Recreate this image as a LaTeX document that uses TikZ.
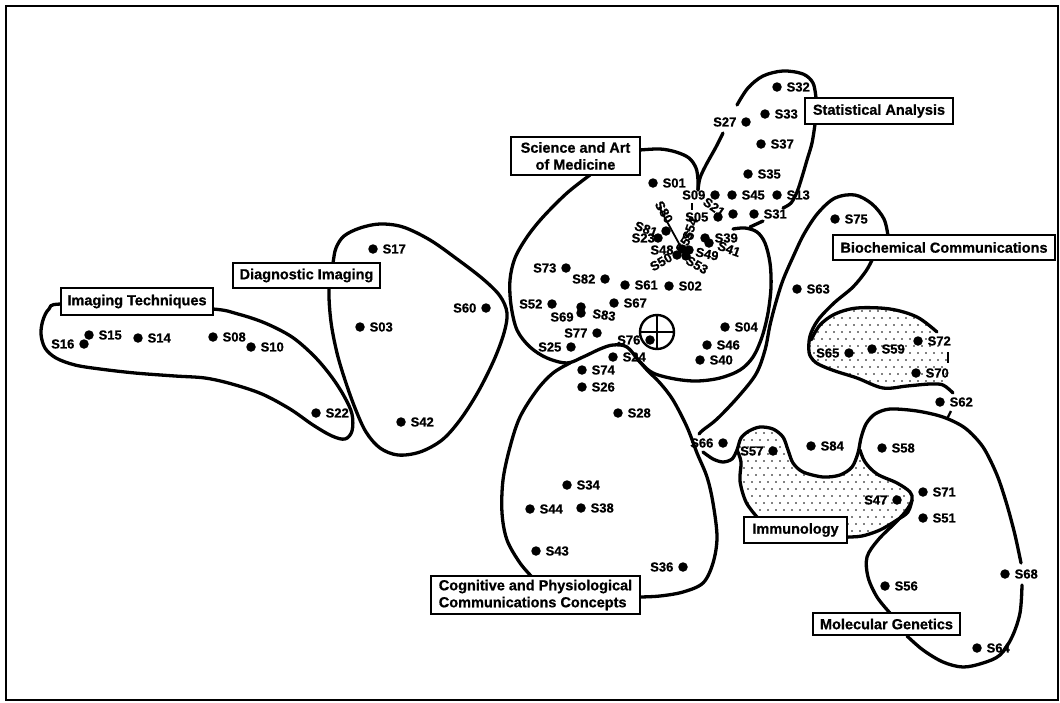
\documentclass[tikz,border=0pt]{standalone}
\usepackage{fontspec}
\setmainfont{Liberation Sans}[BoldFeatures={FakeBold=0.8}]
% dot with its label on the right / on the left
\newcommand\dotR[3]{\node[dot] (p#1) at (#2,#3) {}; \node[lab,anchor=west] (t#1) at ([xshift=4.5pt]p#1.east) {S#1};}
\newcommand\dotL[3]{\node[dot] (p#1) at (#2,#3) {}; \node[lab,anchor=east] (t#1) at ([xshift=-4.5pt]p#1.west) {S#1};}
\begin{document}
\begin{tikzpicture}[x=1pt,y=-1pt,
  dot/.style={circle,fill=black,inner sep=0pt,minimum size=9.5pt},
  lab/.style={inner sep=0pt,font=\bfseries\fontsize{13}{14}\selectfont},
  box/.style={draw,line width=2.4pt,fill=white,inner sep=0pt,
              font=\bfseries\fontsize{14.5}{17}\selectfont,align=center},
  rim/.style={line width=3.3pt,line cap=round,line join=round},
  tick/.style={line width=2.4pt},
  speck/.style={fill=black}]
\useasboundingbox (0,0) rectangle (1060,702);
\draw[line width=2.2pt] (6,6) rectangle (1058,700);

% ---------- stippled areas ----------
\begin{scope}
  \clip (809,352) -- (811,337) -- (820,324) -- (835,314) -- (857,308) -- (890,309)
        -- (917,317) -- (937,332) -- (947,350) -- (947,370) -- (943,385) -- (907,386)
        -- (883,388) -- (857,378) -- (833,370) -- (817,362) -- cycle;
  \foreach \j in {0,...,13}{\foreach \i in {0,...,20}{
    \fill[speck] ({802+8*\i+4*mod(\j,2)},{304+7*\j}) circle (0.85pt);}}
\end{scope}
\begin{scope}
  \clip (737,450) -- (741,438) -- (749,431) -- (760,427) -- (773,429) -- (783,437)
        -- (788,450) -- (793,463) -- (803,472) -- (823,477) -- (840,475) -- (852,467)
        -- (858,453) -- (865,462) -- (877,474) -- (897,483) -- (910,492) -- (912,500)
        -- (908,512) -- (897,520) -- (880,530) -- (860,537) -- (847,540) -- (757,540)
        -- (757,517) -- (746,502) -- (740,480) -- (740,462) -- cycle;
  \foreach \j in {0,...,17}{\foreach \i in {0,...,23}{
    \fill[speck] ({736+8*\i+4*mod(\j,2)},{426+7*\j}) circle (0.85pt);}}
\end{scope}

% ---------- cluster outlines ----------
% Imaging Techniques
\draw[rim] plot[smooth cycle,tension=0.55] coordinates {(61,304) (49,309) (43,320) (41,334)
  (45,348) (56,358) (75,365) (100,369) (135,373) (175,376) (205,378) (232,384) (262,394)
  (290,409) (313,425) (332,436) (345,439) (352,431) (352,414) (344,396) (331,376)
  (314,356) (292,337) (265,323) (238,314) (213,309) (140,306)};
% Diagnostic Imaging
\draw[rim] plot[smooth cycle,tension=0.55] coordinates {(333,263) (336,248) (344,236)
  (360,228) (380,224) (403,227) (430,240) (457,259) (483,279) (500,296) (507,313)
  (504,333) (494,360) (478,392) (460,420) (442,440) (420,452) (398,455) (380,448)
  (366,432) (355,408) (345,380) (337,353) (331,322) (329,290)};
% Science and Art of Medicine
\draw[rim] plot[smooth,tension=0.55] coordinates {(590,175) (567,193) (543,217) (527,237)
  (515,258) (510,280) (511,305) (517,330) (530,347) (547,358) (567,363) (583,357)
  (600,349) (613,345) (627,347) (640,362) (653,373) (675,379) (697,381) (720,378)
  (740,370) (753,357) (762,337) (768,313) (771,287) (770,263) (765,243) (757,232)
  (745,228) (733,229)};
\draw[rim] (750,227) -- (763,221);
\draw[rim] plot[smooth,tension=0.55] coordinates {(640,150) (660,149) (676,152) (689,158)
  (696,168) (698,180) (698,190)};
% Statistical Analysis
\draw[rim] plot[smooth,tension=0.55] coordinates {(698,190) (700,178) (706,165) (716,147)
  (723,133)};
\draw[rim] plot[smooth,tension=0.55] coordinates {(737,105) (748,88) (763,76) (783,71)
  (803,74) (813,83) (816,98)};
\draw[rim] plot[smooth,tension=0.55] coordinates {(815,124) (812,143) (807,160) (802,177)
  (797,192) (791,203) (783,208)};
% Cognitive and Physiological Communications Concepts
\draw[rim] plot[smooth,tension=0.55] coordinates {(570,363) (553,373) (537,390) (520,417)
  (510,447) (503,480) (502,513) (507,540) (520,563) (533,578)};
\draw[rim] plot[smooth,tension=0.55] coordinates {(640,597) (660,596) (683,592) (703,583)
  (713,563) (717,537) (713,503) (707,477) (697,453) (687,427) (673,400) (660,383)
  (647,370) (635,356)};
% Biochemical Communications
\draw[rim] plot[smooth,tension=0.55] coordinates {(888,236) (884,219) (872,204) (855,195)
  (835,198) (818,213) (804,234) (793,257) (783,280) (776,302) (770,325) (765,350)
  (756,374) (738,397) (717,419) (703,430) (699,434)};
\draw[rim] plot[smooth,tension=0.55] coordinates {(872,260) (866,271) (853,287) (834,303)
  (818,320) (810,336) (809,352) (813,360) (820,365) (835,371) (857,378) (883,388)
  (907,386) (930,384) (943,385) (953,393)};
\draw[rim] plot[smooth,tension=0.55] coordinates {(811,340) (820,325) (835,314) (857,308)
  (890,309) (917,317) (937,332)};
\draw[tick] (948,352) -- (948,363);
\draw[tick] (951,411) -- (947,419);
% Immunology and Molecular Genetics
\draw[rim] plot[smooth,tension=0.5] coordinates {(703,452) (713,459) (723,462) (732,459)
  (737,450) (741,438) (749,431) (760,427) (773,429) (783,437) (788,450) (793,463)
  (803,472) (823,477) (840,475) (852,467) (858,453) (861,438) (866,424) (875,414)
  (890,409) (917,411) (943,417) (965,428) (983,447) (997,475) (1007,505) (1015,535)
  (1021,563)};
\draw[rim] plot[smooth,tension=0.55] coordinates {(1022,585) (1020,613) (1012,637)
  (1000,655) (983,663) (963,667) (943,662) (923,650) (907,636)};
\draw[rim] plot[smooth,tension=0.55] coordinates {(890,613) (877,597) (868,577) (867,557)
  (878,540) (895,523) (906,511) (912,500) (910,492) (897,483) (877,474) (865,462)
  (860,450)};
\draw[rim] plot[smooth,tension=0.55] coordinates {(912,500) (908,512) (897,520) (880,530)
  (862,536) (847,537)};
\draw[rim] plot[smooth,tension=0.55] coordinates {(757,517) (746,502) (740,481) (741,462)
  (737,450)};

% ---------- labelled boxes ----------
\node[box,minimum width=152pt,minimum height=27pt] (bIT) at (137,301.5) {Imaging Techniques};
\node[box,minimum width=147pt,minimum height=25pt] (bDI) at (306.5,275.5) {Diagnostic Imaging};
\node[box,minimum width=129pt,minimum height=38pt] (bSM) at (575.5,156) {Science and Art\\of Medicine};
\node[box,minimum width=148pt,minimum height=26pt] (bSA) at (879,111) {Statistical Analysis};
\node[box,minimum width=222pt,minimum height=25pt] (bBC) at (944,247.5) {Biochemical Communications};
\node[box,minimum width=103pt,minimum height=26pt] (bIM) at (795.5,530) {Immunology};
\node[box,minimum width=147pt,minimum height=22pt] (bMG) at (886.5,624) {Molecular Genetics};
\node[box,minimum width=209pt,minimum height=38pt,align=left] (bCP) at (535.5,595)
  {Cognitive and Physiological\\Communications Concepts};

% ---------- centroid marker ----------
\node[circle,draw,line width=2.4pt,minimum size=34pt,inner sep=0pt] (cen) at (657,332) {};
\draw[line width=2.4pt] (cen.west) -- (cen.east) (cen.north) -- (cen.south);

% ---------- statements ----------
\dotR{15}{89}{335}
\dotL{16}{84}{344}
\dotR{14}{138}{338}
\dotR{08}{213}{337}
\dotR{10}{251}{347}
\dotR{22}{316}{413}
\dotR{17}{373}{249}
\dotR{03}{360}{327}
\dotR{42}{401}{422}
\dotL{60}{486}{308}

\dotR{01}{653}{183}
\dotL{73}{566}{268}
\dotL{82}{605}{279}
\dotR{61}{625}{285}
\dotR{02}{669}{286}
\dotL{52}{552}{304}
\dotR{67}{614}{303}
\dotL{77}{597}{333}
\dotL{25}{571}{347}
\dotL{76}{650}{340}
\dotR{24}{613}{357}
\dotR{74}{582}{370}
\dotR{04}{725}{327}
\dotR{46}{707}{345}
\dotR{40}{700}{360}
\node[dot] (p69) at (581,307) {};
\node[dot] (p83) at (581,313) {};
\node[lab] (t69) at (562,317) {S69};
\node[lab,rotate=-8] (t83) at (604,315) {S83};

% dense group
\node[dot] (p23) at (658,238) {};
\node[lab,anchor=east] (t23) at (655,238) {S23};
\node[dot] (p81) at (666,231) {};
\node[lab,rotate=-20] (t81) at (646,229) {S81};
\node[dot] (p48) at (682,249) {};
\node[lab] (t48) at (662,250) {S48};
\node[dot] (p50) at (677,255) {};
\node[lab,rotate=30] (t50) at (661,262) {S50};
\node[dot] (p53) at (686,256) {};
\node[lab,rotate=-30] (t53) at (697,265) {S53};
\node[dot] (p49) at (689,250) {};
\node[lab,rotate=-12] (t49) at (707,254) {S49};
\node[dot] (p41) at (709,243) {};
\node[lab,rotate=-20] (t41) at (729,249) {S41};
\dotR{39}{705}{238}
\node[lab,rotate=70] (t54) at (690,229) {S54};
\node[lab,rotate=55] (t55) at (685,242) {S55};
\node[lab,rotate=-60] (t80) at (664,212) {S80};
\coordinate (k80) at (659,207);
\coordinate (k48) at (682,249);
\draw[line width=1.8pt] (k80) -- (k48);

% Statistical Analysis
\dotR{32}{777}{87}
\dotR{33}{765}{114}
\dotL{27}{746}{122}
\dotR{37}{761}{144}
\dotR{35}{748}{174}
\dotL{09}{715}{195}
\dotR{45}{732}{195}
\dotR{13}{777}{195}
\dotL{05}{718}{217}
\node[dot] (p21) at (733,214) {};
\node[lab,rotate=-35] (t21) at (714,207) {S21};
\dotR{31}{754}{214}
\coordinate (k09a) at (692,203);
\coordinate (k09b) at (692,210);
\draw[tick] (k09a) -- (k09b);

% Biochemical Communications
\dotR{75}{835}{219}
\dotR{63}{797}{289}
\dotL{65}{849}{353}
\dotR{59}{872}{349}
\dotR{72}{918}{341}
\dotR{70}{916}{373}
\dotR{62}{940}{402}

% Immunology / Molecular Genetics
\dotL{66}{723}{443}
\dotL{57}{773}{451}
\dotR{84}{811}{446}
\dotR{58}{882}{448}
\dotR{71}{923}{492}
\dotL{47}{897}{500}
\dotR{51}{923}{518}
\dotR{68}{1005}{574}
\dotR{56}{885}{586}
\dotR{64}{977}{648}

% Cognitive and Physiological Communications Concepts
\dotR{26}{582}{387}
\dotR{28}{618}{413}
\dotR{34}{567}{485}
\dotR{44}{530}{509}
\dotR{38}{581}{508}
\dotR{43}{536}{551}
\dotL{36}{683}{567}
\end{tikzpicture}
\end{document}
